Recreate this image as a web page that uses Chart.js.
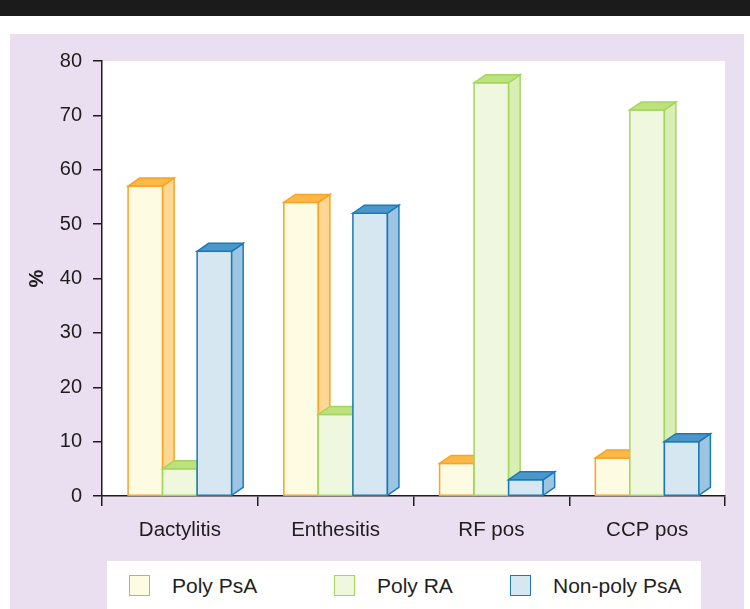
<!DOCTYPE html>
<html>
<head>
<meta charset="utf-8">
<script src="https://cdn.jsdelivr.net/npm/chart.js@4.4.1/dist/chart.umd.min.js"></script>
<style>
  body { margin: 0; background: #fff; font-family: "Liberation Sans", Arial, sans-serif; }
  #page { position: relative; width: 750px; height: 609px; overflow: hidden; }
  #header { position: absolute; left: 0; top: 0; width: 750px; height: 16px; background: #1b1b1b; }
  #panel { position: absolute; left: 10px; top: 34px; width: 734px; height: 575px; background: #e9dff0; }
  #wrap { position: absolute; left: 0; top: 34px; width: 750px; height: 527px; }
  #legend { position: absolute; left: 107px; top: 561px; width: 594px; height: 48px; background: #fff; }
  .item { position: absolute; top: 14px; height: 22px; line-height: 22px; font-size: 21px; color: #231f20; }
  .swatch { position: absolute; top: 14px; width: 19px; height: 19px; border: 1.5px solid; }
</style>
</head>
<body>
<div id="page">
  <div id="header"></div>
  <div id="panel"></div>
  <div id="wrap"><canvas id="chart"></canvas></div>
  <div id="legend"></div>
</div>
<script>
// 데이터
const categories = ['Dactylitis', 'Enthesitis', 'RF pos', 'CCP pos'];
const seriesNames = ['Poly PsA', 'Poly RA', 'Non-poly PsA'];
const polyPsA = [57, 54, 6, 7];
const polyRA = [5, 15, 76, 71];
const nonPolyPsA = [45, 52, 3, 10];
const yTicks = [0, 10, 20, 30, 40, 50, 60, 70, 80];

// 색상 (앞면, 테두리, 윗면, 옆면)
const palette = [
    { front: '#fdfbe1', border: '#f9a323', top: '#fdb848', side: '#fdd793' },
    { front: '#eff7df', border: '#a4d65e', top: '#bde17c', side: '#d9eeb3' },
    { front: '#d7e7f2', border: '#1a7ab9', top: '#4b97c9', side: '#9dc4e0' }
];
const depthX = 11.5;
const depthY = 8;
const textColor = '#1f1c1d';
const fontFamily = '"Liberation Sans", Arial, sans-serif';

// 3D 막대 그리기
const bar3d = {
    id: 'bar3d',
    beforeDraw(chart) {
        const a = chart.chartArea;
        const ctx = chart.ctx;
        ctx.save();
        ctx.fillStyle = '#ffffff';
        ctx.fillRect(a.left, a.top, a.right - a.left, a.bottom - a.top);
        ctx.restore();
    },
    beforeDatasetsDraw(chart) {
        const ctx = chart.ctx;
        ctx.save();
        ctx.lineWidth = 1.5;
        categories.forEach(function(c, i) {
            chart.data.datasets.forEach(function(ds, d) {
                const el = chart.getDatasetMeta(d).data[i];
                const col = palette[d];
                const xl = el.x - el.width / 2;
                const xr = el.x + el.width / 2;
                const y = el.y;
                const b = el.base;

                ctx.strokeStyle = col.border;
                // 앞면
                ctx.fillStyle = col.front;
                ctx.fillRect(xl, y, xr - xl, b - y);
                ctx.strokeRect(xl, y, xr - xl, b - y);
                // 옆면
                ctx.beginPath();
                ctx.moveTo(xr, y);
                ctx.lineTo(xr + depthX, y - depthY);
                ctx.lineTo(xr + depthX, b - depthY);
                ctx.lineTo(xr, b);
                ctx.closePath();
                ctx.fillStyle = col.side;
                ctx.fill();
                ctx.stroke();
                // 윗면
                ctx.beginPath();
                ctx.moveTo(xl, y);
                ctx.lineTo(xl + depthX, y - depthY);
                ctx.lineTo(xr + depthX, y - depthY);
                ctx.lineTo(xr, y);
                ctx.closePath();
                ctx.fillStyle = col.top;
                ctx.fill();
                ctx.stroke();
            });
        });
        ctx.restore();
        return false;
    }
};

const ctx = document.getElementById('chart');
new Chart(ctx, {
    type: 'bar',
    data: {
        labels: categories,
        datasets: [
            { label: seriesNames[0], data: polyPsA, backgroundColor: palette[0].front },
            { label: seriesNames[1], data: polyRA, backgroundColor: palette[1].front },
            { label: seriesNames[2], data: nonPolyPsA, backgroundColor: palette[2].front }
        ]
    },
    options: {
        responsive: true,
        maintainAspectRatio: false,
        animation: false,
        layout: { padding: { top: 27, right: 25, left: 0, bottom: 0 } },
        datasets: { bar: { categoryPercentage: 0.665, barPercentage: 1.0 } },
        plugins: {
            legend: { display: false },
            tooltip: { enabled: false }
        },
        scales: {
            x: {
                grid: { display: true, drawOnChartArea: false, drawTicks: true, tickLength: 10, color: textColor, lineWidth: 1.5 },
                border: { display: true, color: textColor, width: 1.5 },
                ticks: { color: textColor, padding: 12, font: { family: fontFamily, size: 20.5 } },
                afterFit: function(scale) { scale.height = 65; }
            },
            y: {
                min: 0,
                max: 80,
                afterBuildTicks: function(scale) {
                    scale.ticks = yTicks.map(function(v) { return { value: v }; });
                },
                grid: { display: true, drawOnChartArea: false, drawTicks: true, tickLength: 9, color: textColor, lineWidth: 1.5 },
                border: { display: true, color: textColor, width: 1.5 },
                ticks: { color: textColor, padding: 11, font: { family: fontFamily, size: 20 } },
                title: {
                    display: true,
                    text: '%',
                    color: textColor,
                    padding: { top: 25, bottom: 0 },
                    font: { family: fontFamily, size: 20, weight: 'bold' }
                },
                afterFit: function(scale) { scale.width = 102; }
            }
        }
    },
    plugins: [bar3d]
});

// 범례
const legend = document.getElementById('legend');
const swatchX = [22, 227, 403];
seriesNames.forEach(function(name, i) {
    const sw = document.createElement('div');
    sw.className = 'swatch';
    sw.style.left = swatchX[i] + 'px';
    sw.style.background = palette[i].front;
    sw.style.borderColor = palette[i].border;
    legend.appendChild(sw);

    const tx = document.createElement('div');
    tx.className = 'item';
    tx.style.left = (swatchX[i] + 43) + 'px';
    tx.textContent = name;
    legend.appendChild(tx);
});
</script>
</body>
</html>
